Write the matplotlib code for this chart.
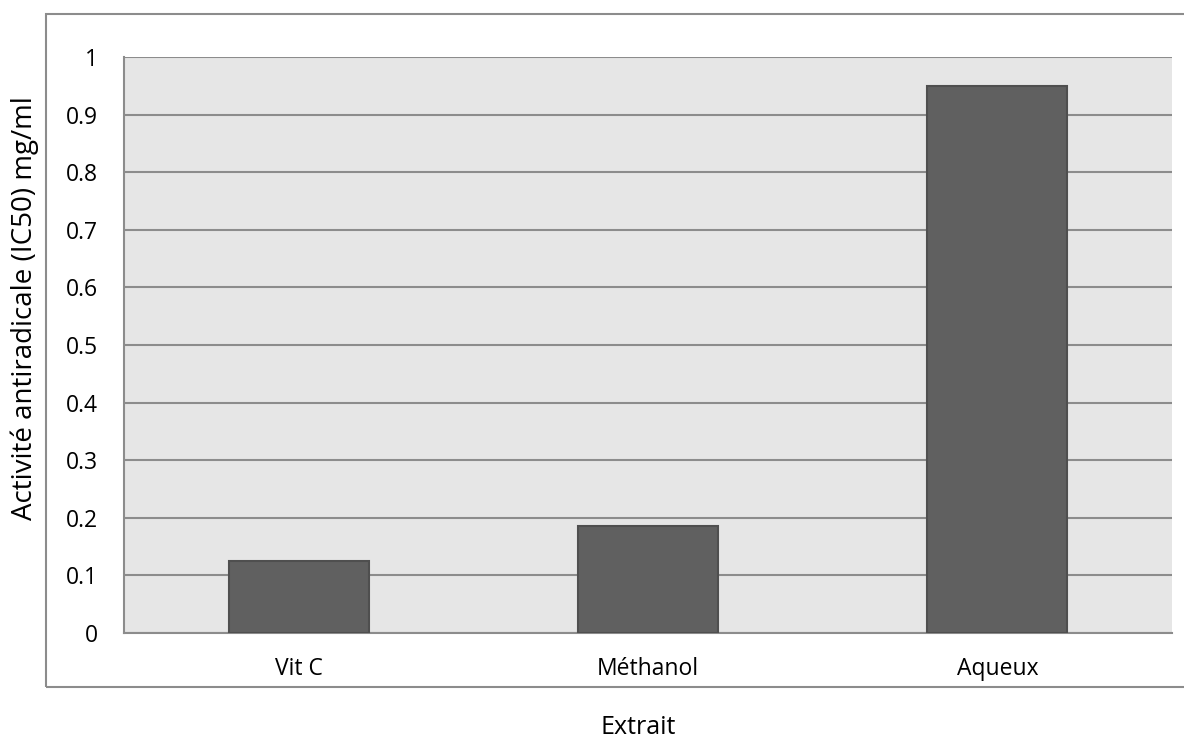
import matplotlib
matplotlib.use("Agg")
import matplotlib.pyplot as plt
from matplotlib.patches import Rectangle

# IC50 values of the antiradical activity per extract
extraits = ["Vit C", "Méthanol", "Aqueux"]
ic50 = [0.125, 0.185, 0.95]
yticks = [0, 0.1, 0.2, 0.3, 0.4, 0.5, 0.6, 0.7, 0.8, 0.9, 1]
ytick_labels = ["0", "0.1", "0.2", "0.3", "0.4", "0.5", "0.6", "0.7", "0.8", "0.9", "1"]

plt.rcParams["font.family"] = ["Open Sans", "DejaVu Sans"]
FS = 16.5

fig = plt.figure(figsize=(11.84, 7.4), dpi=100)
ax = fig.add_axes([0.1047, 0.1446, 0.8852, 0.7784])

# outer chart border (right edge runs off the canvas)
fig.patches.append(Rectangle((0.0389, 0.0716), 1.0, 0.9094, transform=fig.transFigure,
                             fill=False, edgecolor="#8c8c8c", linewidth=1.5, zorder=0))

ax.set_facecolor("#e6e6e6")
x = range(len(extraits))
ax.bar(x, ic50, width=0.4, color="#606060", edgecolor="#4f4f4f", linewidth=1.5, zorder=3)

ax.set_xlim(-0.5, len(extraits) - 0.5)
ax.set_ylim(0, 1)
ax.set_yticks(yticks)
ax.set_yticklabels(ytick_labels, fontsize=FS)
ax.set_xticks(list(x))
ax.set_xticklabels(extraits, fontsize=FS)
ax.tick_params(axis="both", length=0)
ax.tick_params(axis="y", pad=18.5)
ax.tick_params(axis="x", pad=17)

ax.yaxis.grid(True, color="#8c8c8c", linewidth=1.5, zorder=1)
ax.set_axisbelow(True)
for side in ["top", "right"]:
    ax.spines[side].set_visible(False)
for side in ["left", "bottom"]:
    ax.spines[side].set_color("#8c8c8c")
    ax.spines[side].set_linewidth(1.5)

fig.text(25 / 1184, 1 - 308 / 740, "Activité antiradicale (IC50) mg/ml", fontsize=20,
         rotation=90, ha="center", va="center")
fig.text(638 / 1184, 1 - 728 / 740, "Extrait", fontsize=18, ha="center", va="center")

fig.savefig("out.png", dpi=100, facecolor="white")
